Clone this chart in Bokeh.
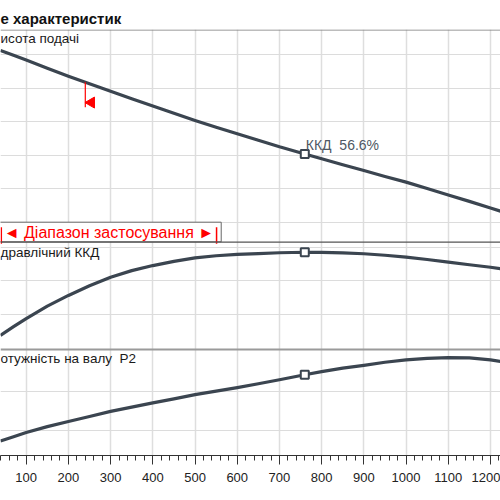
from bokeh.plotting import figure
from bokeh.models import (Range1d, Grid, FixedTicker, SingleIntervalTicker, Span, Label,
                          GlobalInlineStyleSheet)
from bokeh.embed import file_html
from bokeh.resources import INLINE

# ---------------- data ----------------
q = [39, 70, 100, 150, 200, 250, 300, 350, 400, 450, 500, 550, 600, 650, 700, 760,
     800, 850, 900, 950, 1000, 1050, 1100, 1150, 1200, 1225]   # flow
head = [20.24, 19.95, 19.67, 19.18, 18.70, 18.25, 17.80, 17.36, 16.93, 16.49, 16.06, 15.66,
        15.27, 14.88, 14.49, 14.06, 13.78, 13.42, 13.07, 12.72, 12.38, 12.00, 11.61, 11.23,
        10.84, 10.64]
eff = [27.6, 32.8, 37.6, 45.0, 51.3, 57.0, 62.1, 66.0, 69.0, 71.5, 73.6, 74.8, 75.6, 76.1,
       76.6, 76.9, 76.8, 76.5, 76.0, 75.1, 74.0, 72.6, 71.0, 69.5, 68.0, 67.1]
power = [37.3, 38.4, 39.5, 41.0, 42.3, 43.6, 44.9, 46.0, 47.1, 48.1, 49.2, 50.1, 51.0, 52.0,
         53.0, 54.3, 55.1, 56.0, 56.7, 57.5, 58.1, 58.5, 58.7, 58.6, 58.1, 57.7]

q_op = [760]
head_op = [14.06]
eff_op = [76.9]
power_op = [54.3]
op_label = "ККД\u00a0\u00a056.6%"

q_min = 240            # red marker on head curve
head_min = 18.35
head_min_low = 16.85
range_bars = [41, 551]  # application range bars
range_box_right = 562

head_ticks = [20, 18, 16, 14, 12, 10]
eff_ticks = [80, 60, 40]
power_ticks = [50, 40]

title_text = "е характеристик"
lbl_head = "исота подачі"
lbl_eff = "дравлічний ККД"
lbl_pow = "отужність на валу\u00a0\u00a0P2"
range_text = "◄ Діапазон застосування ►"

# ---------------- layout helpers ----------------
FONT = "Liberation Sans"
CURVE = "#3b4550"
TOP, BOT = 29, 455   # frame top / bottom in page pixels


def yrange(v1, p1, v2, p2):
    k = (v2 - v1) / (p2 - p1)
    return Range1d(start=v1 + (BOT - p1) * k, end=v1 + (TOP - p1) * k)


p = figure(width=500, height=500, output_backend="svg", toolbar_location=None,
           x_range=Range1d(39.1, 1223.7), y_range=Range1d(BOT, TOP),
           y_axis_location=None, min_border_left=0, min_border_right=0,
           min_border_top=TOP, min_border_bottom=500 - BOT, title=title_text)
p.stylesheets = [GlobalInlineStyleSheet(css="html, body { margin: 0 !important; padding: 0 !important; overflow: hidden; }")]
p.outline_line_color = None
p.background_fill_color = "white"
p.border_fill_color = "white"

p.title.text_font = FONT
p.title.text_font_size = "15px"
p.title.text_font_style = "bold"
p.title.text_color = "#111111"
p.title.align = "left"
p.title.offset = 0
p.title.standoff = 6

p.extra_y_ranges = {
    "H": yrange(20, 54, 10, 221.5),
    "E": yrange(80, 246.5, 40, 314),
    "P": yrange(50, 391, 40, 430),
}

ticker = SingleIntervalTicker(interval=100, num_minor_ticks=5)
ax = p.xaxis[0]
ax.ticker = ticker
ax.axis_line_color = "#333333"
ax.major_tick_line_color = "#333333"
ax.minor_tick_line_color = "#333333"
ax.major_tick_in = 0
ax.major_tick_out = 9
ax.minor_tick_in = 0
ax.minor_tick_out = 5
ax.major_label_text_font = FONT
ax.major_label_text_font_size = "13px"
ax.major_label_text_color = "#222222"
ax.major_label_standoff = 8

p.xgrid.ticker = ticker
p.xgrid.grid_line_color = "#dedede"
p.xgrid.grid_line_width = 1.5
p.ygrid.grid_line_color = None

for name, ticks in (("H", head_ticks), ("E", eff_ticks), ("P", power_ticks)):
    p.add_layout(Grid(dimension=1, ticker=FixedTicker(ticks=ticks), y_range_name=name,
                      grid_line_color="#dcdcdc", grid_line_width=1))

# application range box (white, covers grid)
p.quad(left=[30], right=[range_box_right], top=[221.7], bottom=[241.3],
       fill_color="white", line_color="#666666", line_width=1)

# curves
for vals, rn in ((head, "H"), (eff, "E"), (power, "P")):
    p.line(q, vals, y_range_name=rn, line_color=CURVE, line_width=3.2, line_join="round")

# operating point markers
for vals, rn in ((head_op, "H"), (eff_op, "E"), (power_op, "P")):
    p.scatter(q_op, vals, y_range_name=rn, marker="square", size=8,
              fill_color="white", line_color=CURVE, line_width=2)

# red min marker on head curve
p.segment(x0=[q_min], y0=[head_min], x1=[q_min], y1=[head_min_low], y_range_name="H",
          line_color="red", line_width=1.2)
px_per_q = 500 / (1223.7 - 39.1)
p.scatter([q_min + 6 / px_per_q], [head_min_low + 0.28], y_range_name="H",
          marker="triangle", angle=1.5708, size=11, fill_color="red", line_color="red")

# red range bars
p.segment(x0=range_bars, y0=[226.7, 226.7], x1=range_bars, y1=[243.3, 243.3],
          line_color="red", line_width=1.5)

# panel separators
p.add_layout(Span(location=29.5, dimension="width", line_color="#7a7a7a", line_width=1.2))
p.add_layout(Span(location=241.6, dimension="width", line_color="#555555", line_width=1.2))
p.add_layout(Span(location=349, dimension="width", line_color="#9a9a9a", line_width=2))

# texts
x0 = 39.1
for txt, yy in ((lbl_head, 37.5), (lbl_eff, 251.5), (lbl_pow, 357.5)):
    p.add_layout(Label(x=x0, y=yy, text=txt, text_font=FONT, text_font_size="13.5px",
                       text_baseline="middle", text_align="left", text_color="#1a1a1a"))

p.add_layout(Label(x=q_op[0], y=144.5, text=op_label, text_font=FONT, text_font_size="14px",
                   text_baseline="middle", text_align="left", text_color="#4e5864", x_offset=1))

p.add_layout(Label(x=296, y=231.5, text=range_text, text_font=FONT, text_font_size="16px",
                   text_baseline="middle", text_align="center", text_color="red"))

open("out.html", "w").write(file_html(p, INLINE))
